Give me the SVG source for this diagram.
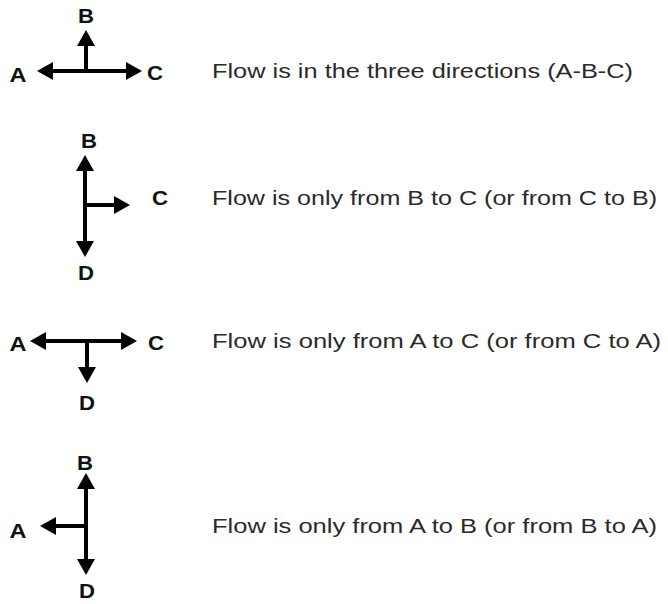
<svg xmlns="http://www.w3.org/2000/svg" width="668" height="604" viewBox="0 0 668 604">
  <defs>
    <marker id="ah" viewBox="0 0 16 18" refX="10" refY="9" markerWidth="16" markerHeight="18" markerUnits="userSpaceOnUse" orient="auto-start-reverse">
      <path d="M0,0 L16,9 L0,18 z" fill="#000"/>
    </marker>
    <style>
      .ln { stroke: #000; stroke-width: 4; fill: none; }
      .lbl { font-family: "Liberation Sans", Arial, sans-serif; font-size: 21px; font-weight: bold; fill: #111; text-anchor: middle; }
      .desc { font-family: "Liberation Sans", Arial, sans-serif; font-size: 20px; fill: #2a2a2a; }
    </style>
  </defs>
  <rect width="668" height="604" fill="#fff"/>

  <g id="connectors">
    <!-- diagram 1 -->
    <line class="ln" x1="43" y1="71" x2="136" y2="71" marker-start="url(#ah)" marker-end="url(#ah)"/>
    <line class="ln" x1="86" y1="73" x2="86" y2="36" marker-end="url(#ah)"/>
    <!-- diagram 2 -->
    <line class="ln" x1="85" y1="161" x2="85" y2="251" marker-start="url(#ah)" marker-end="url(#ah)"/>
    <line class="ln" x1="83" y1="205" x2="124" y2="205" marker-end="url(#ah)"/>
    <!-- diagram 3 -->
    <line class="ln" x1="36" y1="341" x2="131" y2="341" marker-start="url(#ah)" marker-end="url(#ah)"/>
    <line class="ln" x1="87" y1="339" x2="87" y2="377" marker-end="url(#ah)"/>
    <!-- diagram 4 -->
    <line class="ln" x1="86" y1="479" x2="86" y2="569" marker-start="url(#ah)" marker-end="url(#ah)"/>
    <line class="ln" x1="88" y1="526" x2="46" y2="526" marker-end="url(#ah)"/>
  </g>

  <g id="diagram1">
    <text class="lbl" x="86" y="23" textLength="16" lengthAdjust="spacingAndGlyphs">B</text>
    <text class="lbl" x="18" y="82" textLength="17" lengthAdjust="spacingAndGlyphs">A</text>
    <text class="lbl" x="155" y="80" textLength="16" lengthAdjust="spacingAndGlyphs">C</text>
    <text class="desc" x="212" y="78" textLength="421" lengthAdjust="spacingAndGlyphs">Flow is in the three directions (A-B-C)</text>
  </g>

  <g id="diagram2">
    <text class="lbl" x="89" y="148" textLength="16" lengthAdjust="spacingAndGlyphs">B</text>
    <text class="lbl" x="160" y="205" textLength="16" lengthAdjust="spacingAndGlyphs">C</text>
    <text class="lbl" x="86" y="280" textLength="16" lengthAdjust="spacingAndGlyphs">D</text>
    <text class="desc" x="212" y="205" textLength="445" lengthAdjust="spacingAndGlyphs">Flow is only from B to C (or from C to B)</text>
  </g>

  <g id="diagram3">
    <text class="lbl" x="18" y="351" textLength="17" lengthAdjust="spacingAndGlyphs">A</text>
    <text class="lbl" x="156" y="350" textLength="16" lengthAdjust="spacingAndGlyphs">C</text>
    <text class="lbl" x="87" y="410" textLength="16" lengthAdjust="spacingAndGlyphs">D</text>
    <text class="desc" x="212" y="348" textLength="449" lengthAdjust="spacingAndGlyphs">Flow is only from A to C (or from C to A)</text>
  </g>

  <g id="diagram4">
    <text class="lbl" x="85" y="470" textLength="16" lengthAdjust="spacingAndGlyphs">B</text>
    <text class="lbl" x="18" y="538" textLength="17" lengthAdjust="spacingAndGlyphs">A</text>
    <text class="lbl" x="87" y="598" textLength="16" lengthAdjust="spacingAndGlyphs">D</text>
    <text class="desc" x="212" y="533" textLength="445" lengthAdjust="spacingAndGlyphs">Flow is only from A to B (or from B to A)</text>
  </g>
</svg>
